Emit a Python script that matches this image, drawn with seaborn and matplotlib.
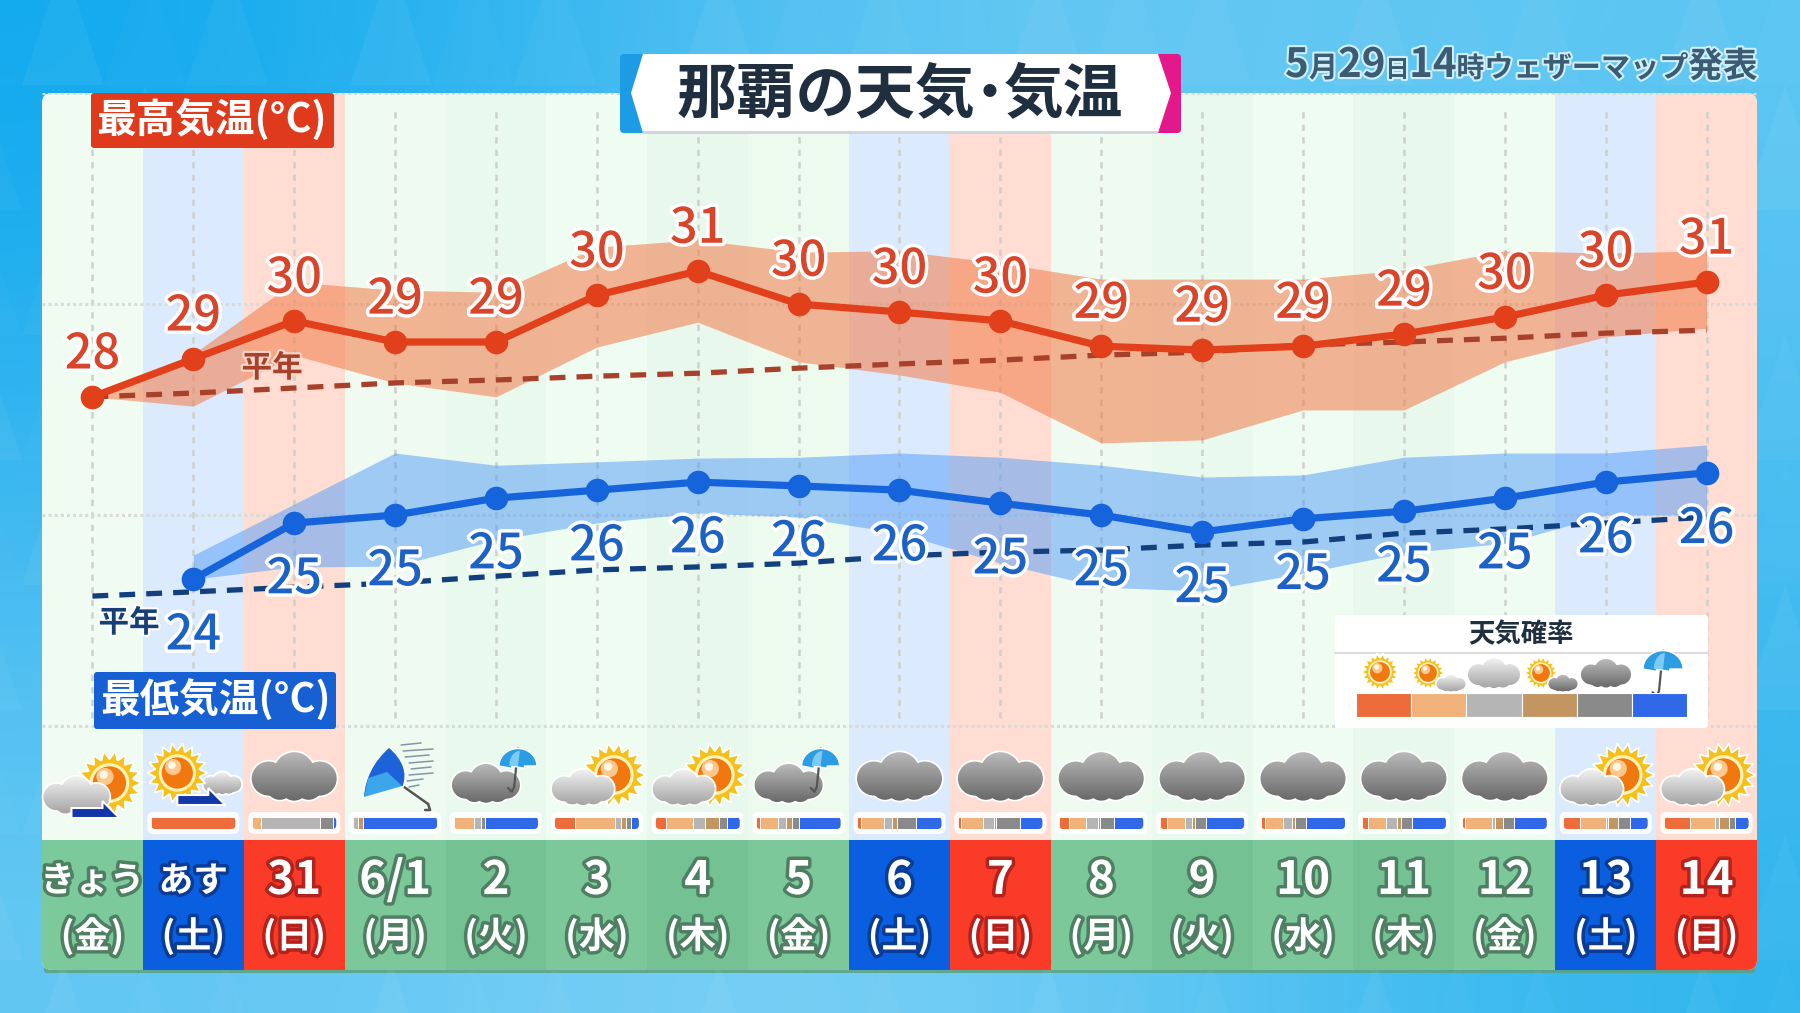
# -*- coding: utf-8 -*-
import numpy as np
import pandas as pd
import matplotlib.pyplot as plt
import seaborn as sns
import matplotlib.patheffects as pe
from matplotlib.colors import LinearSegmentedColormap
from matplotlib.patches import Circle, FancyBboxPatch, PathPatch, Polygon, Rectangle
from matplotlib.path import Path

W, H = 1800, 1013

days = list(range(17))
date_labels = ['きょう', 'あす', '31', '6/1', '2', '3', '4', '5', '6', '7', '8', '9', '10', '11', '12', '13', '14']
week_labels = ['金', '土', '日', '月', '火', '水', '木', '金', '土', '日', '月', '火', '水', '木', '金', '土', '日']

high_labels = [28, 29, 30, 29, 29, 30, 31, 30, 30, 30, 29, 29, 29, 29, 30, 30, 31]
high_temp = [27.80, 28.70, 29.60, 29.10, 29.10, 30.21, 30.78, 30.00, 29.81, 29.60, 29.00, 28.91, 29.00, 29.29, 29.69, 30.21, 30.52]
high_upper = [27.80, 28.82, 30.52, 30.33, 30.28, 31.35, 31.52, 31.23, 31.26, 30.97, 30.59, 30.59, 30.59, 30.81, 31.26, 31.21, 31.26]
high_lower = [27.80, 27.58, 28.79, 28.13, 27.80, 28.98, 29.57, 28.63, 28.32, 27.91, 26.71, 26.78, 27.49, 27.49, 28.63, 29.22, 29.43]
high_normal = [27.80, 27.89, 28.01, 28.13, 28.20, 28.29, 28.36, 28.48, 28.58, 28.67, 28.79, 28.86, 29.03, 29.10, 29.19, 29.31, 29.38]

# no low for today
low_days = days[1:]
low_labels = [24, 25, 25, 25, 26, 26, 26, 26, 25, 25, 25, 25, 25, 25, 26, 26]
low_temp = [23.48, 24.81, 25.00, 25.40, 25.59, 25.78, 25.69, 25.59, 25.28, 25.00, 24.60, 24.91, 25.09, 25.40, 25.78, 26.00]
low_upper = [24.05, 25.26, 26.47, 26.18, 26.26, 26.35, 26.37, 26.47, 26.37, 26.18, 25.90, 25.95, 26.37, 26.47, 26.47, 26.66]
low_lower = [23.48, 23.77, 23.79, 24.41, 24.81, 25.05, 24.95, 24.57, 23.86, 23.29, 23.20, 23.62, 24.10, 24.33, 25.00, 25.00]
low_normal = [23.08, 23.18, 23.29, 23.39, 23.55, 23.70, 23.77, 23.86, 24.03, 24.12, 24.17, 24.29, 24.36, 24.57, 24.67, 24.81, 24.95]

# sun, sun+cloud, cloud, cloud+sun, overcast, rain (one row per day from あす)
prob_sun = [100, 0, 0, 0, 24, 12, 5, 4, 3, 12, 9, 5, 8, 3, 20, 30]
prob_sun_cloud = [0, 11, 0, 24, 48, 33, 21, 28, 26, 20, 21, 21, 21, 32, 30, 30]
prob_cloud = [0, 70, 6, 8, 7, 13, 9, 9, 14, 14, 8, 11, 13, 3, 3, 5]
prob_cloud_sun = [0, 0, 6, 0, 5, 17, 7, 6, 2, 3, 4, 4, 4, 10, 12, 11]
prob_overcast = [0, 15, 0, 5, 6, 10, 8, 22, 28, 16, 13, 13, 13, 13, 14, 8]
prob_rain = [0, 4, 88, 63, 10, 15, 50, 31, 27, 35, 45, 46, 41, 39, 21, 16]
prob_colors = ['#EE6C3A', '#F1B27A', '#B5B5B5', '#C39561', '#8A8A8A', '#2F68E8']

icons = ['sun_cloud_arrow', 'cloud_arrow', 'overcast', 'wind', 'rain', 'cloud_sun', 'cloud_sun', 'rain', 'overcast',
         'overcast', 'overcast', 'overcast', 'overcast', 'overcast', 'overcast', 'cloud_sun', 'cloud_sun']

col_bg = ['#F0FCF2', '#DCEAFD', '#FFDDD2', '#EFFBF0', '#E9F9ED', '#EFFCF1', '#E8F8EC', '#EDFBEF', '#DCEAFD',
          '#FFDDD2', '#EFFBF0', '#E9F9ED', '#EFFCF1', '#E8F8EC', '#EFFCF1', '#DCEAFD', '#FFDDD2']
col_date = ['#7CC99B', '#0A5FE0', '#F93B28', '#7CC89A', '#74C193', '#7CC89A', '#74C193', '#7CC89A', '#0A5FE0',
            '#F93B28', '#7CC89A', '#74C193', '#7CC89A', '#74C193', '#7CC89A', '#0A5FE0', '#F93B28']
col_stroke = ['#4F7F63', '#0A3C96', '#B3221C', '#4F7F63', '#4F7F63', '#4F7F63', '#4F7F63', '#4F7F63', '#0A3C96',
              '#B3221C', '#4F7F63', '#4F7F63', '#4F7F63', '#4F7F63', '#4F7F63', '#0A3C96', '#B3221C']

sns.set_theme(style='white')
plt.rcParams['font.family'] = ['Noto Sans CJK JP', 'DejaVu Sans']
plt.rcParams['axes.unicode_minus'] = False

fig = plt.figure(figsize=(18, 10.13), dpi=100)


def px_axes(x0, y0, x1, y1, z):
    a = fig.add_axes([x0 / W, 1 - y1 / H, (x1 - x0) / W, (y1 - y0) / H], zorder=z)
    a.axis('off')
    return a


def day_x(i):
    return 42 + (i + 0.5) * 1715 / 17


def stroke(w, c):
    return [pe.withStroke(linewidth=w, foreground=c)]


# background
ax_bg = px_axes(0, 0, W, H, 0)
bg_cols = [['#0FA9EE', '#6CCAF3', '#5CC6F3'], ['#3DB8F0', '#7ED3F6', '#45BCF0'], ['#62C7F3', '#86D4F6', '#2FB5EE']]
bg_rgb = np.array([[[int(c[k:k + 2], 16) / 255 for k in (1, 3, 5)] for c in row] for row in bg_cols])
ax_bg.imshow(bg_rgb, extent=(0, W, H, 0), aspect='auto', interpolation='bicubic')
for row, y in enumerate(range(-40, H, 125)):
    for col, x in enumerate(range(-60, W + 80, 82)):
        ax_bg.add_patch(Polygon([(x, y + 125), (x + 41, y), (x + 82, y + 125)], fc='white', ec='none',
                                alpha=[0.01, 0.035, 0.02, 0.05][(row + col * 3) % 4]))
ax_bg.set_xlim(0, W)
ax_bg.set_ylim(H, 0)
panel = FancyBboxPatch((42, 93), 1715, 877, boxstyle='round,pad=0,rounding_size=10', fc='#EFFBF1', ec='none')
ax_bg.add_patch(panel)
ax_bg.add_patch(FancyBboxPatch((44, 966), 1711, 7, boxstyle='round,pad=0,rounding_size=3', fc='#5C9F78', ec='none', zorder=0.5, alpha=0.8))

# temperature area, 42.2 px per degree
ax = px_axes(42, 93, 1757, 840, 1)
ax.set_xlim(-0.5, 16.5)
ax.set_ylim(17.30, 35)
cols = ax.bar(days, 18, bottom=17.30, width=1.0, color=col_bg, linewidth=0)
for c in cols:
    c.set_clip_path(panel)
ax.vlines(days, 20.2, 34.6, color='#CDD0CD', lw=1.8, linestyles=(0, (2.5, 2.5)), zorder=1.2)
ax.hlines([20, 25, 30, 35], -0.5, 16.5, color='#D8DCD8', lw=2.2, linestyles=(0, (1, 1)), zorder=1.2)

ax.fill_between(days, high_lower, high_upper, color='#F27A48', alpha=0.55, lw=0, zorder=2)
ax.fill_between(low_days, low_lower, low_upper, color='#4F9BF8', alpha=0.5, lw=0, zorder=2)

df_high = pd.DataFrame({'day': days, 'temp': high_temp, 'normal': high_normal})
df_low = pd.DataFrame({'day': low_days, 'temp': low_temp})
df_low_normal = pd.DataFrame({'day': days, 'normal': low_normal})

sns.lineplot(data=df_high, x='day', y='normal', ax=ax, color='#A8412C', lw=3.8, linestyle=(0, (3.0, 2.1)), legend=False, zorder=3)
sns.lineplot(data=df_low_normal, x='day', y='normal', ax=ax, color='#123F7E', lw=3.8, linestyle=(0, (3.0, 2.1)), legend=False, zorder=3)
sns.lineplot(data=df_high, x='day', y='temp', ax=ax, color='#E2401B', lw=5.2, marker='o', markersize=17, markeredgewidth=0, legend=False, zorder=4)
sns.lineplot(data=df_low, x='day', y='temp', ax=ax, color='#1664DC', lw=5.2, marker='o', markersize=17, markeredgewidth=0, legend=False, zorder=4)
ax.axis('off')

for d, t, lab in zip(days, high_temp, high_labels):
    ax.annotate(str(lab), (d, t), xytext=(0, 30.5), textcoords='offset points', ha='center', va='center', fontsize=35,
                color='#D8452A', fontweight='medium', path_effects=stroke(5, 'white'), zorder=6)
for d, t, lab in zip(low_days, low_temp, low_labels):
    ax.annotate(str(lab), (d, t), xytext=(0, -40.5), textcoords='offset points', ha='center', va='center', fontsize=35,
                color='#1C62C4', fontweight='medium', path_effects=stroke(5, 'white'), zorder=6)

# date strip
ax_date = px_axes(42, 840, 1757, 970, 1)
ax_date.set_xlim(-0.5, 16.5)
ax_date.set_ylim(0, 1)
bars = ax_date.bar(days, 1, width=1.0, color=col_date, linewidth=0)
for b in bars:
    b.set_clip_path(panel)
for d, lab, wk, sc in zip(days, date_labels, week_labels, col_stroke):
    size = 33 if d > 1 else 25
    ax_date.text(d, 0.685, lab, ha='center', va='center', fontsize=size, color='white', fontweight='bold', path_effects=stroke(5, sc))
    ax_date.text(d, 0.255, '(' + wk + ')', ha='center', va='center', fontsize=26, color='white', fontweight='bold', path_effects=stroke(5, sc))

# overlay in pixel units
ov = px_axes(0, 0, W, H, 2)
ov.set_xlim(0, W)
ov.set_ylim(H, 0)
ov.set_autoscale_on(False)


def gradient(x0, y0, x1, y1, top, bot, clip, z):
    cm = LinearSegmentedColormap.from_list('g', [top, bot])
    im = ov.imshow(np.linspace(0, 1, 64).reshape(-1, 1), extent=(x0, x1, y1, y0), aspect='auto', cmap=cm, zorder=z)
    im.set_clip_path(clip)


def cloud(cx, cy, w, dark=False, z=3):
    lobes = [(0, -0.04, 0.24), (-0.30, 0.03, 0.20), (0.30, 0.03, 0.20), (-0.17, 0.12, 0.16), (0.17, 0.12, 0.16),
             (0, 0.13, 0.16), (0, 0.04, 0.22)]
    p = Path.make_compound_path(*[Path.circle((cx + a * w, cy + b * w), r * w) for a, b, r in lobes])
    ov.add_patch(PathPatch(p, fc='white', ec='white', lw=2.5, zorder=z))
    clip = PathPatch(p, fc='none', ec='none', zorder=z)
    ov.add_patch(clip)
    top, bot = ('#BDBDBD', '#686868') if dark else ('#F4F4F4', '#A2A2A2')
    gradient(cx - w, cy - 0.3 * w, cx + w, cy + 0.3 * w, top, bot, clip, z + 0.01)


def sun(cx, cy, r, z=2.5):
    ang = np.linspace(0, 2 * np.pi, 37)[:-1]
    rad = np.where(np.arange(36) % 2 == 0, r, r * 0.74)
    pts = np.c_[cx + rad * np.cos(ang), cy + rad * np.sin(ang)]
    ov.add_patch(Polygon(pts, fc='#F5C01C', ec='white', lw=1.2, zorder=z))
    ov.add_patch(Circle((cx, cy), r * 0.62, fc='#FFF3B8', ec='none', zorder=z))
    ov.add_patch(Circle((cx, cy), r * 0.52, fc='#F0780F', ec='none', zorder=z))
    ov.add_patch(Circle((cx - r * 0.14, cy - r * 0.2), r * 0.27, fc='#FBC78A', ec='none', zorder=z))
    ov.add_patch(Circle((cx - r * 0.18, cy - r * 0.26), r * 0.13, fc='#FFF7E8', ec='none', zorder=z))


def umbrella(cx, cy, w, z=4):
    t = np.linspace(np.pi, 2 * np.pi, 30)
    dome = list(zip(cx + w / 2 * np.cos(t), cy + w * 0.46 * np.sin(t)))
    for k in (0.5, 0.17, -0.17):
        dome.append((cx + k * w, cy + 0.06 * w if k != 0.5 else cy))
        dome.append((cx + (k - 0.33) * w, cy))
    ov.plot([cx, cx - 0.1 * w, cx - 0.16 * w, cx - 0.26 * w], [cy - 0.46 * w, cy + 0.55 * w, cy + 0.68 * w, cy + 0.58 * w],
            color='#555555', lw=1.6, zorder=z)
    ov.add_patch(Polygon(dome, fc='#2C9CE3', ec='white', lw=1, zorder=z))
    t2 = np.linspace(np.pi, 1.5 * np.pi, 12)
    ov.add_patch(Polygon(list(zip(cx + w * 0.28 * np.cos(t2) + w * 0.05, cy + w * 0.4 * np.sin(t2))) + [(cx, cy)], fc='#7CCBF2', ec='none', zorder=z))


def arrow(x, y):
    ov.add_patch(Polygon([(x, y + 7), (x + 31, y + 7), (x + 31, y), (x + 48, y + 17), (x, y + 17)], fc='#1237A8', ec='white', lw=1.5, zorder=5))


def wind(cx):
    ov.plot([cx + 9, cx + 33], [787, 804], color='#555555', lw=1.8, zorder=4)
    ov.plot([cx + 33, cx + 35, cx + 30], [804, 810, 810], color='#555555', lw=1.8, zorder=4)
    shape = Path([(cx - 6, 747), (cx + 16, 766), (cx + 8, 787), (cx - 12, 783), (cx - 32, 798), (cx - 30, 768), (cx - 6, 747), (cx - 6, 747)],
                 [Path.MOVETO, Path.CURVE3, Path.CURVE3, Path.CURVE3, Path.CURVE3, Path.CURVE3, Path.CURVE3, Path.CLOSEPOLY])
    ov.add_patch(PathPatch(shape, fc='#1C62D8', ec='white', lw=1, zorder=4))
    ov.add_patch(Polygon([(cx + 7, 786), (cx - 31, 797), (cx - 27, 778), (cx - 8, 772)], fc='#3BA6EC', ec='none', zorder=4))
    for dy, x0, x1 in [(744, 6, 26), (750, 8, 38), (756, 10, 34), (762, 14, 38), (768, 16, 36), (774, 14, 38), (780, 12, 28), (786, 14, 24)]:
        ov.plot([cx + x0, cx + x1], [dy + 1, dy - 1], color='#8595A8', lw=1.1, zorder=4)


for d, kind in zip(days, icons):
    x = day_x(d)
    if kind == 'overcast':
        cloud(x, 776, 85, dark=True)
    elif kind == 'cloud_sun':
        sun(x + 17, 775, 32)
        cloud(x - 14, 787, 62)
    elif kind == 'rain':
        cloud(x - 10, 783, 68, dark=True)
        umbrella(x + 22, 766, 38)
    elif kind == 'sun_cloud_arrow':
        sun(x + 17, 783, 32)
        cloud(x - 16, 795, 66)
        arrow(x - 21, 801)
    elif kind == 'cloud_arrow':
        cloud(x + 29, 783, 38)
        sun(x - 16, 773, 30, z=3.5)
        arrow(x - 16, 788)
    elif kind == 'wind':
        wind(x)

# probability strips
ax_strip = px_axes(42, 817, 1757, 829, 3)
ax_strip.set_xlim(-0.5, 16.5)
ax_strip.set_ylim(0, 1)
prob_table = [prob_sun, prob_sun_cloud, prob_cloud, prob_cloud_sun, prob_overcast, prob_rain]
for k, d in enumerate(low_days):
    x = day_x(d)
    ov.add_patch(FancyBboxPatch((x - 46, 812), 92, 22, boxstyle='round,pad=0,rounding_size=6', fc='white', ec='none', alpha=0.9, zorder=2))
    clip = FancyBboxPatch((x - 42, 817), 84, 12, boxstyle='round,pad=0,rounding_size=4', fc='none', ec='none', zorder=2)
    ov.add_patch(clip)
    left = d - 0.42
    for vals, c in zip(prob_table, prob_colors):
        w = vals[k] / 100 * 0.84
        if w > 0:
            b = ax_strip.barh(0.5, w, left=left, height=1, color=c, edgecolor='white', linewidth=0.7)
            b[0].set_clip_path(clip)
        left += w

# label boxes
ov.add_patch(FancyBboxPatch((91, 93), 243, 55, boxstyle='round,pad=0,rounding_size=3', fc='#E03A1C', ec='none', zorder=6))
ov.text(212, 121, '最高気温(°C)', ha='center', va='center', fontsize=28.5, color='white', fontweight='bold', zorder=7)
ov.add_patch(FancyBboxPatch((94, 672), 242, 57, boxstyle='round,pad=0,rounding_size=3', fc='#1660D4', ec='none', zorder=6))
ov.text(215, 701, '最低気温(°C)', ha='center', va='center', fontsize=28.5, color='white', fontweight='bold', zorder=7)
ov.text(272, 368, '平年', ha='center', va='center', fontsize=22, color='#A8412C', fontweight='bold', path_effects=stroke(3, '#F6D8CC'), zorder=7)
ov.text(129, 623, '平年', ha='center', va='center', fontsize=22, color='#143F78', fontweight='bold', path_effects=stroke(3, 'white'), zorder=7)

# title
ov.add_patch(FancyBboxPatch((620, 54), 40, 79, boxstyle='round,pad=0,rounding_size=4', fc='#1E9BE5', ec='none', zorder=6))
ov.add_patch(FancyBboxPatch((1141, 54), 40, 79, boxstyle='round,pad=0,rounding_size=4', fc='#E3188A', ec='none', zorder=6))
ov.add_patch(Polygon([(643, 54), (1158, 54), (1171, 93), (1158, 133), (643, 133), (631, 93)], fc='white', ec='none', zorder=6.5))
ov.add_patch(Rectangle((643, 131), 515, 3, fc='#CFD6DC', ec='none', zorder=6.6))
ov.text(677, 95, '那覇の天気', ha='left', va='center', fontsize=43, color='#1F2F40', fontweight='bold', zorder=7)
# small glyph with a stroke, keeps its box between the two title parts
ov.text(990, 93, '・', ha='center', va='center', fontsize=19, color='#1F2F40', fontweight='bold',
        path_effects=stroke(4.5, '#1F2F40'), zorder=7)
ov.text(1123, 95, '気温', ha='right', va='center', fontsize=43, color='#1F2F40', fontweight='bold', zorder=7)

# issue time, runs have their own sizes
runs = [('5', 29), ('月', 21), ('29', 29), ('日', 17), ('14', 29), ('時', 20), ('ウェザーマップ', 21), ('発表', 25)]
x_run = 1285
renderer = fig.canvas.get_renderer()
for s, size in runs:
    t = ov.text(x_run, 77, s, ha='left', va='baseline', fontsize=size, color='#3B5C73', fontweight='bold',
                path_effects=stroke(3, '#CFEFFB'), zorder=7)
    x_run += t.get_window_extent(renderer).width

# weather probability legend
ov.add_patch(FancyBboxPatch((1335, 615), 373, 113, boxstyle='round,pad=0,rounding_size=3', fc='white', ec='none', zorder=6))
ov.plot([1335, 1708], [653, 653], color='#DDDDDD', lw=1.5, zorder=7)
ov.text(1521, 635, '天気確率', ha='center', va='center', fontsize=19, color='#1F2F40', fontweight='bold', zorder=7)
ax_leg = px_axes(1356, 693, 1687, 717, 4)
ax_leg.set_xlim(-0.5, 5.5)
ax_leg.set_ylim(0, 1)
ax_leg.bar(range(6), 1, width=1.0, color=prob_colors, edgecolor='white', linewidth=0.8)

sun(1380, 672, 19, z=7)
sun(1428, 673, 17, z=7)
cloud(1451, 683, 29, z=7.2)
cloud(1494, 673, 52, z=7.2)
sun(1541, 673, 17, z=7)
cloud(1563, 683, 29, dark=True, z=7.2)
cloud(1606, 673, 50, dark=True, z=7.2)
umbrella(1663, 669, 40, z=7.2)

fig.savefig('out.png', dpi=100)
